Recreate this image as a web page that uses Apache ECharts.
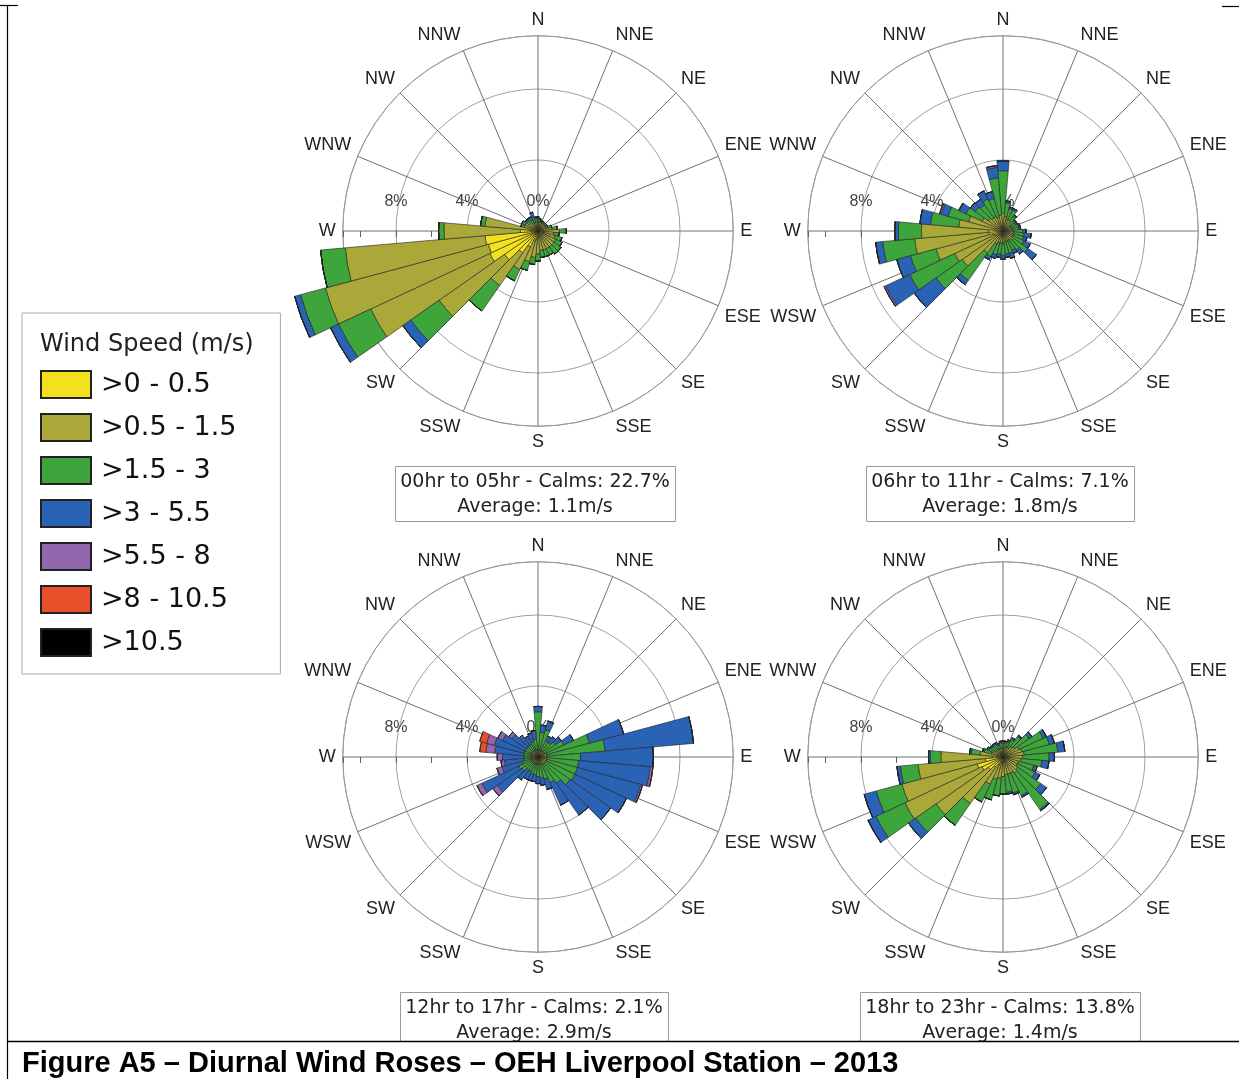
<!DOCTYPE html>
<html>
<head>
<meta charset="utf-8">
<title>Figure A5 - Diurnal Wind Roses</title>
<script src="https://cdn.jsdelivr.net/npm/echarts@6/dist/echarts.min.js"></script>
<style>
  html, body { margin: 0; padding: 0; background: #fff; }
  #chart { width: 1239px; height: 1079px; }
</style>
</head>
<body>
<div id="chart"></div>
<script>
// direction bins (degrees from north, centred on each value)
var bearings = ['0','10','20','30','40','50','60','70','80','90','100','110','120','130','140','150','160','170',
                '180','190','200','210','220','230','240','250','260','270','280','290','300','310','320','330','340','350'];
var compass = ['N','NNE','NE','ENE','E','ESE','SE','SSE','S','SSW','SW','WSW','W','WNW','NW','NNW'];
var speedClasses = ['>0 - 0.5', '>0.5 - 1.5', '>1.5 - 3', '>3 - 5.5', '>5.5 - 8', '>8 - 10.5', '>10.5'];
var speedColors = ['#f3e11e', '#aba83a', '#3ea53c', '#2a63b6', '#9266ad', '#e8502c', '#000000'];
var captions = [
  '00hr to 05hr - Calms: 22.7%\nAverage: 1.1m/s',
  '06hr to 11hr - Calms: 7.1%\nAverage: 1.8m/s',
  '12hr to 17hr - Calms: 2.1%\nAverage: 2.9m/s',
  '18hr to 23hr - Calms: 13.8%\nAverage: 1.4m/s'
];
var figureTitle = 'Figure A5 \u2013 Diurnal Wind Roses \u2013 OEH Liverpool Station \u2013 2013';

// frequency (%) per direction, one list per speed class
var z = function (n) { var a = []; for (var i = 0; i < n; i++) a.push(0); return a; };

var rose00to05 = [
  [.2,.2,.2,.2,.2,.2,.2,.2,.2,.3,.3,.3,.3,.3,.3,.3,.3,.3,.4,.5,.6,1.0,1.5,2.3,3.0,2.9,3.0,1.0,.4,.3,.3,.2,.2,.2,.2,.2],
  [.3,.3,.3,.3,.3,.3,.3,.4,.6,.9,.6,.7,.8,.8,.8,.8,.8,.8,.9,1.0,1.2,1.4,2.25,4.5,7.4,9.5,7.9,4.3,2.6,.5,.5,.4,.4,.3,.3,.3],
  [.2,.2,.1,.1,.1,.1,.1,.2,.3,.4,.3,.4,.4,.5,.5,.4,.4,.4,.4,.4,.5,.7,1.75,1.95,2.0,1.45,1.4,.3,.25,.2,.2,.2,.2,.2,.3,.2],
  [.1,0,0,0,0,0,0,0,0,0,0,0,0,0,0,0,0,0,0,0,0,0,0,.55,.5,.35,0,0,0,0,0,.1,.1,.2,.3,.1],
  z(36), z(36), z(36)
];
var rose06to11 = [
  [.2,.2,.2,.2,.2,.2,.2,.2,.2,.2,.2,.2,.2,.2,.2,.2,.2,.2,.2,.2,.2,.2,.3,.4,.5,.6,.8,.8,.5,.4,.3,.3,.2,.2,.2,.2],
  [.8,.6,.5,.5,.4,.3,.3,.3,.3,.4,.4,.4,.4,.5,.4,.4,.4,.4,.5,.5,.5,.6,1.2,2.4,2.5,3.3,4.2,3.8,2.0,1.6,1.0,.7,.7,.7,.6,.7],
  [2.4,.8,.6,.6,.4,.3,.3,.4,.4,.5,.6,.6,.7,1.0,.7,.6,.7,.7,.7,.6,.7,.8,1.9,1.8,2.8,1.5,1.8,1.3,1.6,1.2,1.0,.9,.9,1.1,1.1,2.1],
  [.55,.1,.1,.1,.1,.1,.1,.1,.1,.2,.4,.2,.4,.6,.3,.2,.3,.2,.2,.2,.2,.2,.3,1.5,1.5,.8,.4,.2,.6,.4,.4,.35,.4,.5,.4,.6],
  [0,0,0,0,0,0,0,0,0,0,0,0,0,0,0,0,0,0,0,0,0,0,0,0,.1,0,0,0,0,.1,.05,0,0,0,0,.1],
  z(36), z(36)
];
var rose12to17 = [
  [.1,.1,.1,.1,.1,.1,.1,.1,.1,.1,.1,.1,.1,.1,.1,.1,.1,.1,.1,.1,.1,.1,.1,.1,.1,.1,.1,.1,.1,.1,.1,.1,.1,.1,.1,.1],
  [.3,.3,.3,.3,.3,.3,.3,.4,.4,.4,.4,.4,.4,.4,.4,.4,.3,.3,.3,.3,.3,.3,.3,.3,.3,.3,.3,.3,.3,.3,.3,.3,.3,.3,.3,.3],
  [2.15,1.0,1.2,.6,.6,.8,1.2,2.5,3.3,1.9,1.8,1.8,1.8,1.7,1.3,1.1,.9,.8,.7,.6,.6,.5,.5,.7,.8,.5,.4,.4,.4,.4,.4,.4,.4,.4,.5,.6],
  [.3,.4,.5,.3,.4,.4,.6,2.0,5.0,4.1,4.05,3.7,3.2,2.8,2.2,1.4,.6,.4,.4,.4,.4,.5,.7,1.7,2.3,1.2,1.1,1.2,1.65,1.75,1.4,1.0,.6,.5,.5,.5],
  [0,0,0,0,0,0,0,0,0,0,.15,.1,0,0,0,0,0,0,0,0,0,0,0,.3,.3,.3,.2,.3,.5,.45,.3,.2,.1,0,0,0],
  [0,0,0,0,0,0,0,0,0,0,0,0,0,0,0,0,0,0,0,0,0,0,0,0,0,0,0,0,.35,.4,0,0,0,0,0,0],
  z(36)
];
var rose18to23 = [
  [.2,.2,.2,.2,.2,.2,.2,.2,.2,.2,.2,.2,.2,.2,.2,.2,.2,.2,.3,.3,.3,.5,.7,1.0,1.3,1.5,1.0,.6,.3,.2,.2,.2,.2,.2,.2,.2],
  [.3,.3,.4,.4,.5,.6,.8,.9,1.0,.9,.8,.7,.7,.8,.9,.8,.8,.8,.8,.9,1.0,1.2,2.5,3.6,4.8,4.4,3.8,2.9,1.0,.5,.4,.3,.3,.3,.3,.3],
  [.3,.3,.3,.5,.7,1.0,1.5,1.6,1.9,1.5,1.2,.9,1.1,1.6,2.5,1.4,1.1,1.0,1.0,1.0,1.2,1.1,1.5,1.4,1.8,1.5,1.0,.6,.5,.4,.3,.3,.3,.3,.2,.3],
  [.1,.1,.1,.1,.1,.2,.2,.3,.4,.3,.4,.1,.3,.4,.1,.1,.1,.1,0,0,0,0,0,.5,.5,.7,.2,.1,.1,.1,.1,.1,.1,.1,.1,.1],
  [0,0,0,0,0,0,0,0,0,0,0,.1,0,0,0,0,0,0,0,0,0,0,0,0,0,0,0,0,0,0,0,0,0,0,0,0],
  z(36), z(36)
];
var roses = [rose00to05, rose06to11, rose12to17, rose18to23];

// layout
var centers = [[538, 231], [1003, 231], [538, 757], [1003, 757]];
var ringR = 195.25;      // pixel radius of the 11% ring
var ringMax = 11;
var barMax = 16;
var boxes = [[395, 466, 280, 55], [866, 466, 268, 55], [400, 992, 268, 49], [860, 992, 280, 49]];

var chart = echarts.init(document.getElementById('chart'));

var polar = [], angleAxis = [], radiusAxis = [], series = [], graphic = [];

roses.forEach(function (rose, k) {
  var p0 = k * 3;
  // 0: spokes + rings, 1: small ticks on W axis, 2: stacked bars
  polar.push({ center: centers[k], radius: ringR });
  polar.push({ center: centers[k], radius: ringR });
  polar.push({ center: centers[k], radius: ringR * barMax / ringMax });

  angleAxis.push({
    polarIndex: p0, type: 'value', min: 0, max: 360, interval: 22.5,
    startAngle: 180, clockwise: true,
    axisLine: { show: true, lineStyle: { color: '#9a9a9a', width: 1 } },
    axisTick: { show: false },
    splitLine: { show: true, lineStyle: { color: '#707070', width: 1 } },
    axisLabel: {
      margin: 7, fontSize: 18, color: '#222', fontFamily: 'Liberation Sans, Arial, sans-serif',
      formatter: function (v) {
        if (v >= 360) return '';
        return compass[Math.round(((v + 270) % 360) / 22.5) % 16];
      }
    }
  });
  // labels sit above the W spoke, so the margin is turned to the other side
  radiusAxis.push({
    polarIndex: p0, type: 'value', min: 0, max: ringMax, interval: 4,
    axisLine: { show: false }, axisTick: { show: false },
    splitLine: { show: true, lineStyle: { color: '#a0a0a0', width: 1 } },
    axisLabel: {
      margin: -37, fontSize: 16, color: '#444', fontFamily: 'Liberation Sans, Arial, sans-serif',
      formatter: function (v) { return v < ringMax ? v + '%' : ''; }
    }
  });

  angleAxis.push({ polarIndex: p0 + 1, type: 'value', min: 0, max: 360, startAngle: 180, show: false });
  radiusAxis.push({
    polarIndex: p0 + 1, type: 'value', min: 0, max: ringMax, interval: 2,
    axisLine: { show: false }, axisLabel: { show: false }, splitLine: { show: false },
    axisTick: { show: true, inside: true, length: 6, lineStyle: { color: '#606060' } }
  });

  angleAxis.push({ polarIndex: p0 + 2, type: 'category', data: bearings, startAngle: 95, clockwise: true, show: false });
  radiusAxis.push({ polarIndex: p0 + 2, type: 'value', min: 0, max: barMax, show: false });

  speedClasses.forEach(function (name, j) {
    series.push({
      type: 'bar', name: name, coordinateSystem: 'polar', polarIndex: p0 + 2,
      stack: 'rose' + k, data: rose[j], barCategoryGap: '0%',
      itemStyle: { color: speedColors[j], borderColor: '#222', borderWidth: 0.6 },
      silent: true
    });
  });

  var b = boxes[k];
  graphic.push({
    type: 'rect', shape: { x: b[0] + 0.5, y: b[1] + 0.5, width: b[2], height: b[3] },
    style: { fill: '#fff', stroke: '#9a9a9a', lineWidth: 1 }
  });
  graphic.push({
    type: 'text', x: b[0] + b[2] / 2, y: b[1] + 28.5,
    style: {
      text: captions[k], align: 'center', verticalAlign: 'middle',
      font: '19px "DejaVu Sans", sans-serif', lineHeight: 25, fill: '#222'
    }
  });
});

// page frame and figure caption
graphic.push({ type: 'line', shape: { x1: 7.5, y1: 5, x2: 7.5, y2: 1079 }, style: { stroke: '#000', lineWidth: 1.2 } });
graphic.push({ type: 'line', shape: { x1: 0, y1: 5.5, x2: 18, y2: 5.5 }, style: { stroke: '#000', lineWidth: 1.2 } });
graphic.push({ type: 'line', shape: { x1: 1222, y1: 6.5, x2: 1239, y2: 6.5 }, style: { stroke: '#000', lineWidth: 1.2 } });
graphic.push({ type: 'line', shape: { x1: 7, y1: 1041.5, x2: 1239, y2: 1041.5 }, style: { stroke: '#000', lineWidth: 1.5 } });
graphic.push({
  type: 'text', x: 22, y: 1064,
  style: { text: figureTitle, verticalAlign: 'middle', font: 'bold 29px "Liberation Sans", Arial, sans-serif', fill: '#000' }
});

chart.setOption({
  animation: false,
  backgroundColor: '#fff',
  title: {
    text: 'Wind Speed (m/s)', left: 35, top: 328,
    textStyle: { fontFamily: 'DejaVu Sans', fontSize: 24, fontWeight: 'normal', color: '#222' }
  },
  legend: {
    orient: 'vertical', left: 22, top: 313,
    data: speedClasses, selectedMode: false,
    icon: 'rect', itemWidth: 50, itemHeight: 27, itemGap: 14,
    padding: [57, 44, 17, 18],
    borderColor: '#aaa', borderWidth: 1,
    textStyle: { fontFamily: 'DejaVu Sans', fontSize: 27, lineHeight: 27, color: '#111', padding: [0, 0, 0, 5] }
  },
  polar: polar,
  angleAxis: angleAxis,
  radiusAxis: radiusAxis,
  series: series,
  graphic: graphic
});
</script>
</body>
</html>
